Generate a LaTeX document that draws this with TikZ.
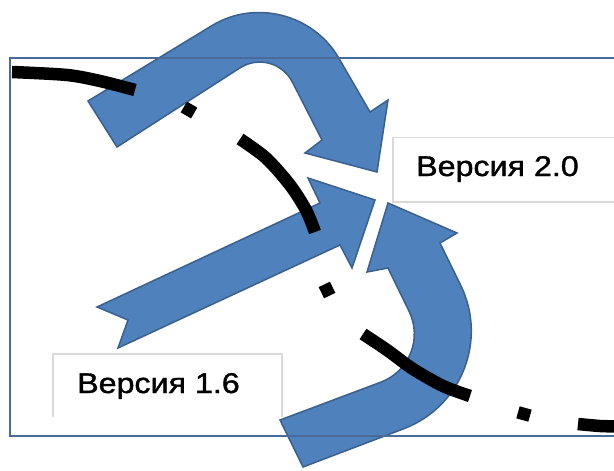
\documentclass[tikz,border=0pt]{standalone}
\usepackage{fontspec}
\setmainfont{Liberation Sans}
\newfontfamily\labelfont[FakeBold=1.2]{Liberation Sans}
\definecolor{arrowfill}{RGB}{79,129,189}
\definecolor{arrowedge}{RGB}{58,96,142}
\definecolor{framecol}{RGB}{74,106,154}
\definecolor{boxcol}{RGB}{218,218,218}
\tikzset{
  bigarrow/.style={fill=arrowfill, draw=arrowedge, line width=1.5pt, line join=miter},
  framebox/.style={draw=framecol, line width=2pt},
  labelbox/.style={draw=boxcol, line width=1.5pt},
  ink/.style={draw=black, line width=12.5pt, line cap=butt},
  label/.style={anchor=base west, inner sep=0pt, font=\labelfont\fontsize{28.5}{30}\selectfont}
}
\begin{document}
\begin{tikzpicture}[x=1pt,y=-1pt]
\useasboundingbox (0,0) rectangle (614,471);
\fill[white] (0,0) rectangle (614,471);

% label boxes
\draw[labelbox] (630,137.5) -- (393,137.5) -- (393,202) -- (630,202);
\draw[labelbox] (53,417) -- (53,354) -- (282,354) -- (282,417);
\node[label] (v20) at (416,176) {\scalebox{1.13}[1]{Версия 2.0}};
\node[label] (v16) at (77,393) {\scalebox{1.13}[1]{Версия 1.6}};

% top curved arrow
\path[bigarrow] (88,101) -- (212,25.6) .. controls (255.4,-0.8) and (313.4,14.1) .. (338.8,58.1)
  -- (370,112) -- (388,100) -- (377,172) -- (305,153) -- (322,140) -- (292.5,82.3)
  .. controls (282.5,62.7) and (258.3,56.1) .. (239.8,68) -- (117,147) -- cycle;

% middle straight arrow
\path[bigarrow] (97,307) -- (128,320) -- (118,348) -- (340,245) -- (352,268) -- (375,200)
  -- (308,178) -- (320,203) -- cycle;

% bottom curved arrow
\path[bigarrow] (303,467) -- (403.8,428.7) .. controls (461.4,406.8) and (487.7,340.4) .. (460.6,285.1)
  -- (440,243) -- (457,233) -- (388,203) -- (367,272) -- (388,268) -- (409,311.1)
  .. controls (422.4,338.5) and (409.5,371.3) .. (381,382.1) -- (280,420) -- cycle;

% frame
\draw[framebox] (640,58) -- (10,58) -- (10,436) -- (640,436);

% dash-dot curve
\draw[ink] plot[smooth] coordinates {(12,72) (67,75) (100,81) (135,90)};
\draw[ink] (183.8,107) -- (194.2,113);
\draw[ink] plot[smooth] coordinates {(240,139) (266,158) (290,185) (306,210) (315,232)};
\draw[ink] (324.3,284.4) -- (329.7,295.6);
\draw[ink] plot[smooth] coordinates {(363,334) (387,350) (413,369) (443,386) (470,396)};
\draw[ink] (518,412.3) -- (530,415.7);
\draw[ink] plot[smooth] coordinates {(578,424) (600,426) (620,426.5)};
\end{tikzpicture}
\end{document}
